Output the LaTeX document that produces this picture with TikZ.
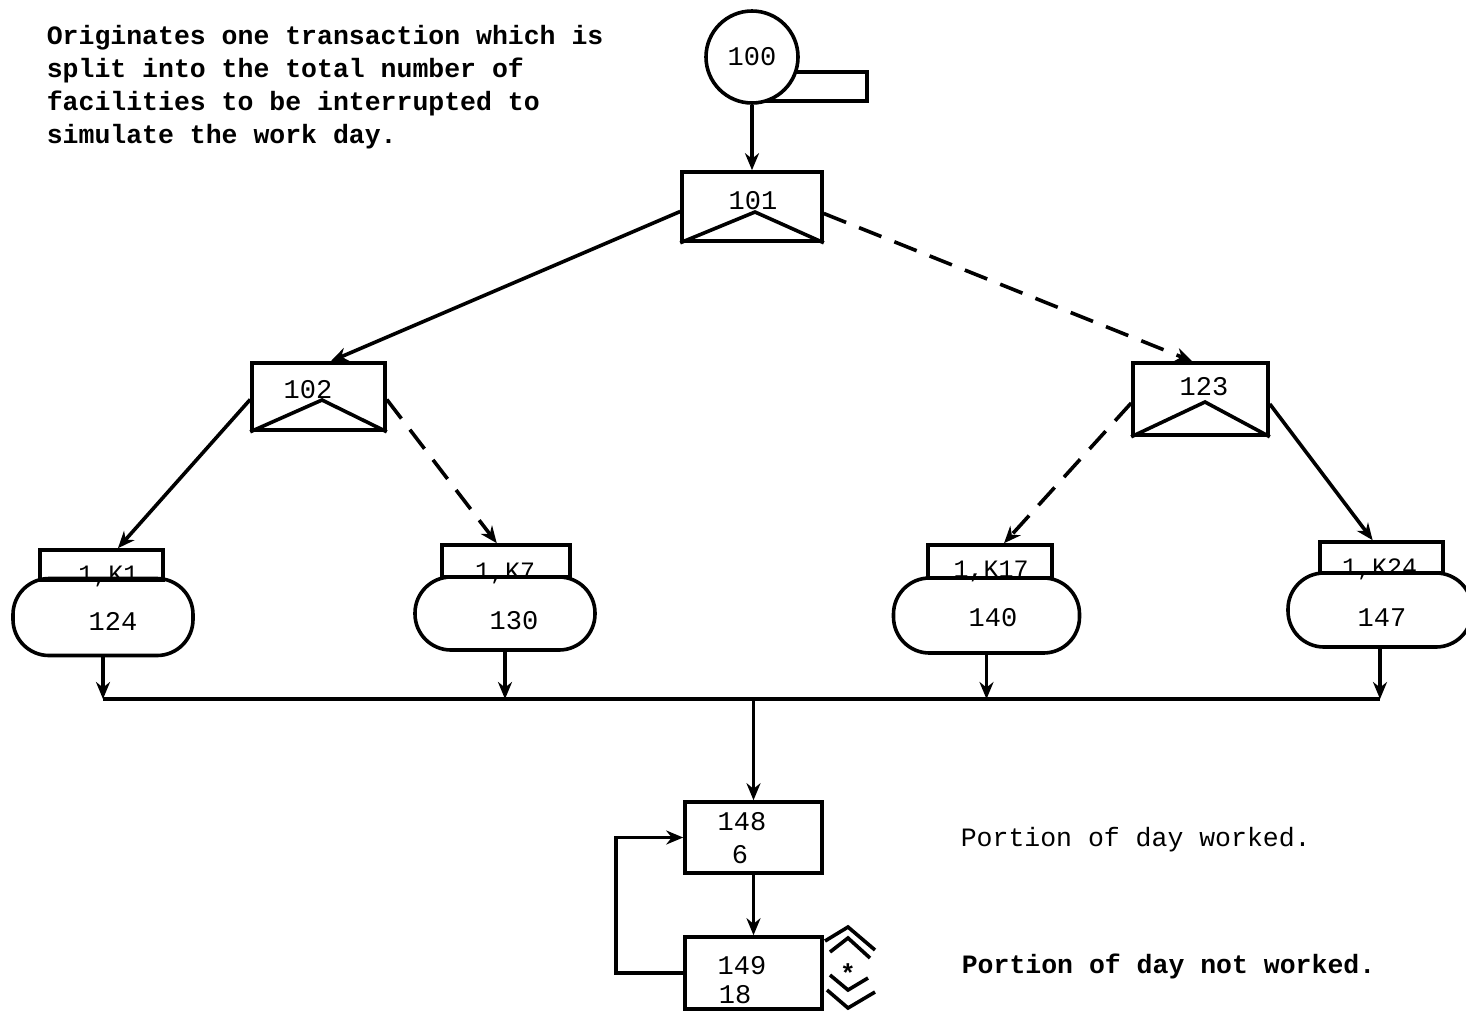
\documentclass[tikz,border=0pt]{standalone}
\usepackage{fontspec}
\newfontfamily\tw{Liberation Mono}
\usetikzlibrary{arrows.meta,calc}

\begin{document}
\begin{tikzpicture}[x=1pt,y=-1pt,
  line width=3.6pt,
  every node/.style={inner sep=0pt},
  box/.style={draw,minimum width=136pt,minimum height=70pt},
  tag/.style={draw,minimum width=123pt,minimum height=32pt},
  stad/.style={draw,rounded corners=36pt,minimum width=182pt,minimum height=74pt},
  num/.style={font=\tw\fontsize{27}{27}\selectfont},
  tagtext/.style={font=\tw\fontsize{25}{25}\selectfont,anchor=base},
  note/.style={font=\tw\bfseries\fontsize{26.5}{33}\selectfont,anchor=base west},
  notelight/.style={font=\tw\fontsize{26.5}{33}\selectfont,anchor=base west},
  arr/.style={-{Stealth[length=17pt,width=14pt]}},
  dsh/.style={dash pattern=on 24pt off 14pt}]

\useasboundingbox (0,0) rectangle (1466,1013);

% --- GENERATE block with its tab
\node[draw,minimum width=115pt,minimum height=29pt] (gtab) at (809.5,86.5) {};
\node[draw,fill=white,circle,minimum size=92pt] (c100) at (752,57) {};
\node[num] (c100t) at (752,57) {100};

% --- SPLIT blocks (boxes with an inner triangle)
\node[box,minimum width=140pt,minimum height=69pt] (b101) at (752,206.5) {};
\draw[line join=miter] (b101.south west) -- ($(b101.center)+(3,5.5)$) -- (b101.south east);
\node[num] (b101t) at (753,201) {101};

\node[box,minimum width=133pt,minimum height=67pt] (b102) at (318.5,396.5) {};
\draw (b102.south west) -- ($(b102.center)+(3.5,3.5)$) -- (b102.south east);
\node[num] (b102t) at (308,390) {102};

\node[box,minimum width=135pt,minimum height=72pt] (b123) at (1200.5,399) {};
\draw (b123.south west) -- ($(b123.center)+(4.5,3)$) -- (b123.south east);
\node[num] (b123t) at (1204,387) {123};

% --- PREEMPT blocks: tag box over a rounded block
\node[tag,minimum height=30pt] (k1) at (101.5,565) {};
\node[stad,minimum width=180pt,minimum height=77pt] (s124) at (103,617) {};
\node[tagtext] (k1t) at ($(k1.south)+(7,1)$) {1,K1};
\node[num] (s124t) at (113,621) {124};

\node[tag,minimum width=128pt] (k7) at (506,561) {};
\node[stad,minimum width=180pt,minimum height=73pt] (s130) at (505,613.5) {};
\node[tagtext] (k7t) at ($(k7.south)+(-1,1)$) {1,K7};
\node[num] (s130t) at (514,621) {130};

\node[tag,minimum width=124pt,minimum height=33pt] (k17) at (990,561.5) {};
\node[stad,minimum width=186pt,minimum height=75pt] (s140) at (986.5,615.5) {};
\node[tagtext] (k17t) at ($(k17.south)+(1,-2)$) {1,K17};
\node[num] (s140t) at (993,617.5) {140};

\node[tag,minimum height=31pt] (k24) at (1381.5,557.5) {};
\node[stad,minimum width=184pt,minimum height=74pt] (s147) at (1380,610) {};
\node[tagtext] (k24t) at ($(k24.south)+(-2,1)$) {1,K24};
\node[num] (s147t) at (1382,618) {147};

% --- ADVANCE blocks
\node[box,minimum width=137pt,minimum height=71pt] (b148) at (753.5,837.5) {};
\node[num] (b148t) at (742,821.5) {148};
\node[num] (b148u) at (740,855) {6};

\node[box,minimum width=137pt,minimum height=72pt] (b149) at (753.5,973) {};
\node[num] (b149t) at (742,966) {149};
\node[num,anchor=base] (b149u) at (735,1003) {18};

% --- marker beside block 149
\draw (825,941) -- (848,927) -- (875,950);
\draw (830,952) -- (848,938) -- (870,958);
\draw (830,975) -- (848,990) -- (868,978);
\draw (827,990) -- (848,1008) -- (875,992);
\node[font=\tw\bfseries\fontsize{26}{26}\selectfont] (star) at (848,973) {*};

% --- connectors
\draw[arr] (c100.south) -- (b101.north);
\draw[arr] ($(b101.west)+(0,5)$) -- ($(b102.north west)!0.59!(b102.north east)$);
\draw[arr,dsh] ($(b101.east)+(0,7)$) -- ($(b123.north west)!0.44!(b123.north east)$);
\draw[arr] ($(b102.west)+(0,3)$) -- ($(k1.north west)!0.63!(k1.north east)$);
\draw[arr,dsh] ($(b102.east)+(0,3)$) -- ($(k7.north west)!0.43!(k7.north east)$);
\draw[arr,dsh] ($(b123.west)+(0,4)$) -- ($(k17.north west)!0.61!(k17.north east)$);
\draw[arr] ($(b123.east)+(0,5)$) -- ($(k24.north west)!0.43!(k24.north east)$);

\coordinate (bus) at (0,699);
\draw[arr] (s124.south) -- (s124.south |- bus);
\draw[arr] (s130.south) -- (s130.south |- bus);
\draw[arr] (s140.south) -- (s140.south |- bus);
\draw[arr] (s147.south) -- (s147.south |- bus);
\draw (s124.south |- bus) -- (s147.south |- bus);
\draw[arr] (b148.north |- bus) -- (b148.north);
\draw[arr] (b148.south) -- (b149.north);
\draw[arr] (b149.west) -- ++(-67,0) |- (b148.west);

% --- notes
\node[note] (n1) at (45,44) {Originates one transaction which is};
\node[note] (n2) at (45,77) {split into the total number of};
\node[note] (n3) at (45,110) {facilities to be interrupted to};
\node[note] (n4) at (45,143) {simulate the work day.};
\node[notelight] (n5) at (959,846) {Portion of day worked.};
\node[note] (n6) at (960,973) {Portion of day not worked.};
\end{tikzpicture}
\end{document}
